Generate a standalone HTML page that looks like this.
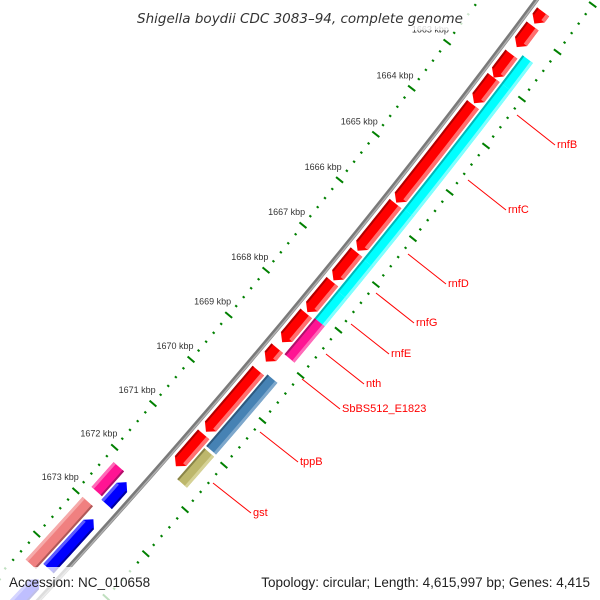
<!DOCTYPE html>
<html><head><meta charset="utf-8"><style>
html,body{margin:0;padding:0;background:#fff;width:600px;height:600px;overflow:hidden;}
svg{display:block;font-family:"Liberation Sans",sans-serif;overflow:hidden;}
</style></head><body>
<svg id="map" width="600" height="600" viewBox="0 0 600 600" xmlns="http://www.w3.org/2000/svg">
<rect width="600" height="600" fill="#fff"/>
<g id="g"></g>
<rect x="128" y="4" width="344" height="26" fill="#fff" fill-opacity="0.8"/>
<text x="300" y="23" text-anchor="middle" font-size="13.5" font-style="italic" fill="#333" style="font-family:'DejaVu Sans',sans-serif">Shigella boydii CDC 3083–94, complete genome</text>
<rect x="0" y="567" width="180" height="33" fill="#fff" fill-opacity="0.75"/>
<text x="9" y="587" font-size="13.5" fill="#222">Accession: NC_010658</text>
<rect x="255" y="567" width="345" height="33" fill="#fff" fill-opacity="0.75"/>
<text x="590" y="587" text-anchor="end" font-size="13.5" fill="#222">Topology: circular; Length: 4,615,997 bp; Genes: 4,415</text>
</svg>
<script>
// ---- data (kbp) ----
const tickKbp = [1663,1664,1665,1666,1667,1668,1669,1670,1671,1672,1673];
const redStart = [1661.6,1661.9,1662.5,1663.0,1663.58,1665.72,1666.78,1667.43,1668.13,1668.9,1669.4,1670.83];
const redEnd   = [1661.85,1662.35,1663.0,1663.55,1665.7,1666.75,1667.4,1668.1,1668.77,1669.2,1670.77,1671.55];
const slot2Start = [1662.4,1663.0,1665.7,1666.8,1667.5,1668.1,1669.35,1671.0];
const slot2End   = [1663.0,1665.7,1666.8,1667.5,1668.1,1668.9,1670.95,1671.7];
const slot2Kind  = ["cyan","cyan","cyan","cyan","cyan","magenta","steel","khaki"];
const revStart = [1672.31,1673.16,1674.55];
const revEnd   = [1672.82,1674.3,1676.0];
const rev2Start = [1672.2,1673.0];
const rev2End   = [1672.77,1674.45];
const rev2Kind  = ["magenta","salmon"];
const labelNames = ["rnfB","rnfC","rnfD","rnfG","rnfE","nth","SbBS512_E1823","tppB","gst"];
const labelX = [557,508,448,416,391,366,342,300,253];
const labelY = [147,212,286,325,356,386,411,464,515];

// ---- geometry ----
const CX=-5306, CY=-4340, R0=7278, A0=0.6590, DA=0.008056;
const ang = k => A0+(k-1664)*DA;
const pt = (a,r) => [CX+r*Math.cos(a), CY+r*Math.sin(a)];
const NS="http://www.w3.org/2000/svg";
const G=document.getElementById('g');
function mk(tag,attrs,name){const e=document.createElementNS(NS,tag);for(const k in attrs)e.setAttribute(k,attrs[k]);


G.appendChild(e);return e;}
function arcPts(a1,a2,r,n){const p=[];for(let i=0;i<=n;i++){p.push(pt(a1+(a2-a1)*i/n,r));}return p;}
function poly(p,fill,name){return mk('polygon',{points:p.map(q=>q[0].toFixed(2)+','+q[1].toFixed(2)).join(' '),fill:fill},name);}
function band(k1,k2,r1,r2,fill,name){const a1=ang(k1),a2=ang(k2);poly(arcPts(a1,a2,r1,10).concat(arcPts(a2,a1,r2,10)),fill,name);}
const TIP=7/7290;
function arrow(k1,k2,r1,r2,dir,cols,name){
  let a1=ang(k1),a2=ang(k2),rm=(r1+r2)/2;
  if(dir>0){const b=Math.max(a1,a2-TIP);
    poly(arcPts(a1,b,r1,10).concat([pt(a2,rm)]).concat(arcPts(b,a1,r2,10)),cols[0],name);
    poly(arcPts(a1,b,r2-4,10).concat(arcPts(b,a1,r2,10)),cols[1],name+'-highlight');
    poly(arcPts(a1,b,r1,10).concat(arcPts(b,a1,r1+2,10)),cols[2],name+'-shade');
  } else {const b=Math.min(a2,a1+TIP);
    poly([pt(a1,rm)].concat(arcPts(b,a2,r1,10)).concat(arcPts(a2,b,r2,10)),cols[0],name);
    poly(arcPts(b,a2,r1,10).concat(arcPts(a2,b,r1+3,10)),cols[1],name+'-highlight');
    poly(arcPts(b,a2,r2-2,10).concat(arcPts(a2,b,r2,10)),cols[2],name+'-shade');
  }
}
function flat(k1,k2,r1,r2,cols,name,outerLight){
  band(k1,k2,r1,r2,cols[0],name);
  if(outerLight){band(k1,k2,r2-3,r2,cols[1],name+'-highlight');band(k1,k2,r1,r1+2,cols[2],name+'-shade');}
  else{band(k1,k2,r1,r1+3,cols[1],name+'-highlight');band(k1,k2,r2-2,r2,cols[2],name+'-shade');}
}
const palette={cyan:["#00ffff","#7fffff","#00b8b8"],magenta:["#ff1493","#ff6ab8","#b0106a"],
steel:["#4682b4","#7ea8cc","#2e5a80"],khaki:["#bdb76b","#d6d296","#8a8548"],salmon:["#f08080","#f6aaaa","#b05858"],
red:["#ff0000","#ff7070","#b00000"],blue:["#0000ff","#5a5aff","#0000a0"]};

// ticks
function ticks(rc,name){
  for(let k=1661;k<=1677.001;k+=0.2){
    const kk=Math.round(k*10)/10, a=ang(kk), major=Math.abs(kk-Math.round(kk))<1e-6;
    const h=major?4.5:1.2;const p1=pt(a,rc-h),p2=pt(a,rc+h);
    mk('line',{x1:p1[0],y1:p1[1],x2:p2[0],y2:p2[1],stroke:'#008000','stroke-width':2},name+(major?'-major':'-minor'));
  }
}
ticks(R0-46,'inner-tick');
ticks(R0+48,'outer-tick');
tickKbp.forEach(k=>{const p=pt(ang(k),R0-67);
  const t=mk('text',{x:p[0],y:p[1]+3,'text-anchor':'middle','font-size':'9',fill:'#333'},'tick-label');t.textContent=k+' kbp';});

// backbone
(function(){const p=arcPts(ang(1658),ang(1678),R0,40);
mk('polyline',{points:p.map(q=>q.join(',')).join(' '),fill:'none',stroke:'#7a7a7a','stroke-width':4.5},'backbone');
mk('polyline',{points:arcPts(ang(1658),ang(1678),R0+1,40).map(q=>q.join(',')).join(' '),fill:'none',stroke:'#b0b0b0','stroke-width':1.5},'backbone-highlight');})();

// features
redStart.forEach((s,i)=>arrow(s,redEnd[i],R0+5,R0+20,1,palette.red,'forward-gene-'+i));
slot2Start.forEach((s,i)=>flat(s,slot2End[i],R0+22,R0+35,palette[slot2Kind[i]],'slot2-feature-'+i,true));
revStart.forEach((s,i)=>arrow(s,revEnd[i],R0-21,R0-7,-1,palette.blue,'reverse-gene-'+i));
rev2Start.forEach((s,i)=>flat(s,rev2End[i],R0-37,R0-23,palette[rev2Kind[i]],'reverse-slot2-feature-'+i,false));

// labels
labelNames.forEach((n,i)=>{
  const x=labelX[i],y=labelY[i];
  mk('line',{x1:x-40,y1:y-32,x2:x-2,y2:y-2,stroke:'#ff0000','stroke-width':1},'label-leader-'+n);
  const t=mk('text',{x:x,y:y+1,'font-size':'11',fill:'#ff0000'},'gene-label-'+n);t.textContent=n;
});
</script>
</body></html>
